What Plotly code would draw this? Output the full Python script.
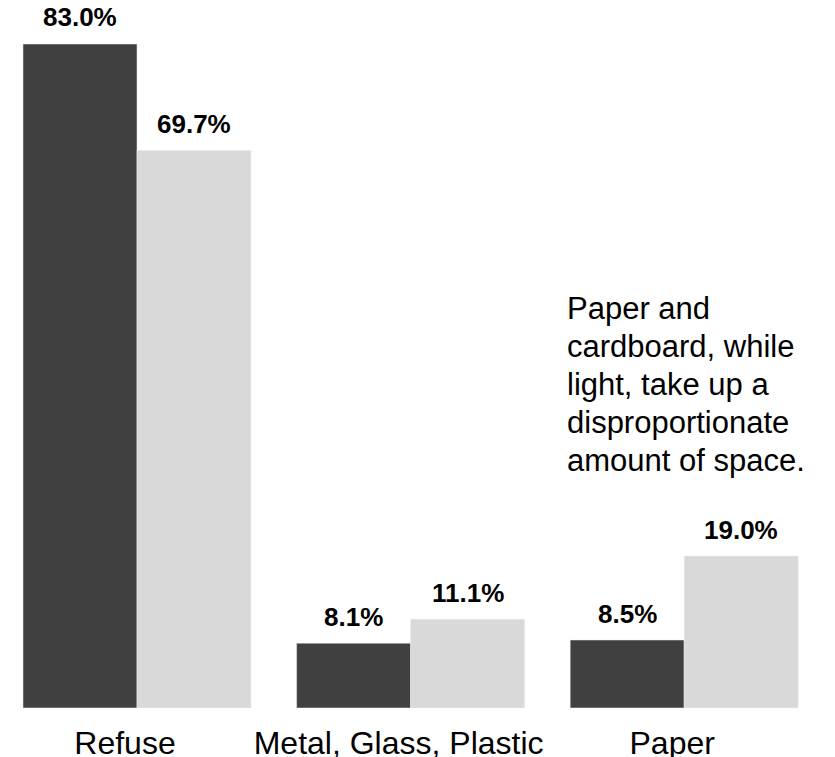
import plotly.graph_objects as go

categories = ["Refuse", "Metal, Glass, Plastic", "Paper"]
series_a = [83.0, 8.1, 8.5]    # dark bars
series_b = [69.7, 11.1, 19.0]  # light bars
note_lines = ["Paper and", "cardboard, while", "light, take up a",
              "disproportionate", "amount of space."]

DARK = "#404040"
LIGHT = "#d9d9d9"
FONT = "Arial, Liberation Sans, sans-serif"

# page body has an 8px margin, so the figure is drawn 8px in from the corner
W, H = 819, 757
ML, MR, MT, MB = 0, 6, 0, 57
BARGAP = 0.1667
plot_w = W - ML - MR
plot_h = H - MT - MB
px_per_cat = 273.6
first_center = 129.0
x0 = -first_center / px_per_cat
x_range = [x0, x0 + plot_w / px_per_cat]
y_range = [0, 87.5]
bar_px = px_per_cat * (1 - BARGAP) / 2

fig = go.Figure()
fig.add_trace(go.Bar(x=categories, y=series_a, marker_color=DARK, name="A"))
fig.add_trace(go.Bar(x=categories, y=series_b, marker_color=LIGHT, name="B"))

annotations = []
for vals, sign in ((series_a, -1), (series_b, 1)):
    for c, v in zip(categories, vals):
        annotations.append(dict(
            x=c, y=v, xref="x", yref="y", text=f"<b>{v:.1f}%</b>",
            showarrow=False, xanchor="center", yanchor="bottom",
            xshift=sign * bar_px / 2, yshift=9.5,
            font=dict(family=FONT, size=26, color="black")))

note_size = 31
first_baseline = 320.7 - 8
line_step = 37.9
for i, line in enumerate(note_lines):
    baseline = first_baseline + i * line_step
    bottom_px = baseline + 0.212 * note_size + 1
    annotations.append(dict(
        x=(557 - ML) / plot_w, y=(H - MB - bottom_px) / plot_h,
        xref="paper", yref="paper", text=line, showarrow=False,
        xanchor="left", yanchor="bottom", align="left",
        font=dict(family=FONT, size=note_size, color="black")))

fig.update_layout(
    width=W, height=H,
    margin=dict(l=ML, r=MR, t=MT, b=MB, pad=0),
    paper_bgcolor="white", plot_bgcolor="white",
    barmode="group", bargap=BARGAP, bargroupgap=0,
    showlegend=False,
    annotations=annotations,
    xaxis=dict(range=x_range, showgrid=False, zeroline=False, showline=False,
               ticks="", tickfont=dict(family=FONT, size=32, color="black"),
               ticklabelstandoff=13, ticklabelshift=-12, automargin=False,
               fixedrange=True),
    yaxis=dict(range=y_range, showgrid=False, zeroline=False, showline=False,
               showticklabels=False, ticks="", automargin=False, fixedrange=True),
)

fig.write_html("out.html", config={"displayModeBar": False})
